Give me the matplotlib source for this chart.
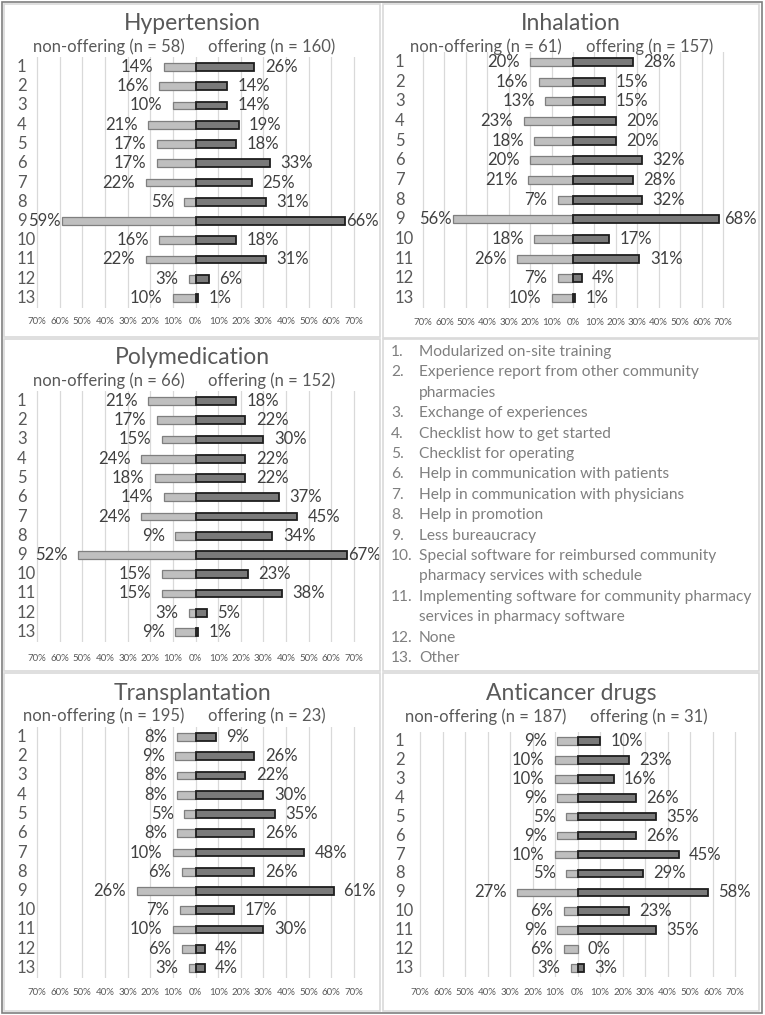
import numpy as np
import matplotlib.pyplot as plt
import matplotlib.transforms as mtransforms
from matplotlib.patches import Rectangle

plt.rcParams['font.family'] = ['Lato', 'DejaVu Sans']

W, H = 765, 1015

# Datos (porcentajes) ********************************************************
items = list(range(1, 14))

hyp_non = [14, 16, 10, 21, 17, 17, 22, 5, 59, 16, 22, 3, 10]
hyp_off = [26, 14, 14, 19, 18, 33, 25, 31, 66, 18, 31, 6, 1]
inh_non = [20, 16, 13, 23, 18, 20, 21, 7, 56, 18, 26, 7, 10]
inh_off = [28, 15, 15, 20, 20, 32, 28, 32, 68, 17, 31, 4, 1]
pol_non = [21, 17, 15, 24, 18, 14, 24, 9, 52, 15, 15, 3, 9]
pol_off = [18, 22, 30, 22, 22, 37, 45, 34, 67, 23, 38, 5, 1]
tra_non = [8, 9, 8, 8, 5, 8, 10, 6, 26, 7, 10, 6, 3]
tra_off = [9, 26, 22, 30, 35, 26, 48, 26, 61, 17, 30, 4, 4]
anc_non = [9, 10, 10, 9, 5, 9, 10, 5, 27, 6, 9, 6, 3]
anc_off = [10, 23, 16, 26, 35, 26, 45, 29, 58, 23, 35, 0, 3]

titles = ['Hypertension', 'Inhalation', 'Polymedication', 'Transplantation', 'Anticancer drugs']
n_non = [58, 61, 66, 195, 187]
n_off = [160, 157, 152, 23, 31]

ticks = [-70, -60, -50, -40, -30, -20, -10, 0, 10, 20, 30, 40, 50, 60, 70]
tick_labels = ['%d%%' % abs(t) for t in ticks]

legend_items = [
    ('1.', ['Modularized on-site training']),
    ('2.', ['Experience report from other community', 'pharmacies']),
    ('3.', ['Exchange of experiences']),
    ('4.', ['Checklist how to get started']),
    ('5.', ['Checklist for operating']),
    ('6.', ['Help in communication with patients']),
    ('7.', ['Help in communication with physicians']),
    ('8.', ['Help in promotion']),
    ('9.', ['Less bureaucracy']),
    ('10.', ['Special software for reimbursed community', 'pharmacy services with schedule']),
    ('11.', ['Implementing software for community pharmacy', 'services in pharmacy software']),
    ('12.', ['None']),
    ('13.', ['Other']),
]

# Geometria de cada panel (pixeles) *******************************************
# (izq70, der70, fila1, fila13, titulo, subtitulo, ticks, x etiqueta fila,
#  limite izq. y der. de las etiquetas de valor)
geom = [
    (37, 354, 67, 298, 23, 47, 320, 17, 28, 376),
    (423, 723, 62, 298, 23, 47, 321, 395, 426, 757),
    (37, 354, 401, 632, 357, 381, 657, 17, 28, 376),
    (37, 354, 737, 968, 693, 716, 991, 17, 28, 376),
    (420, 735, 741, 968, 693, 717, 991, 395, 405, 757),
]
boxes = [(4, 4, 380, 337), (383, 4, 759, 338), (4, 339, 380, 671),
         (4, 673, 380, 1011), (383, 673, 759, 1011)]
legend_box = (383, 339, 759, 671)

datos = [(hyp_non, hyp_off), (inh_non, inh_off), (pol_non, pol_off),
         (tra_non, tra_off), (anc_non, anc_off)]

fx = lambda px: px / W
fy = lambda py: 1 - py / H

fig = plt.figure(figsize=(W / 100, H / 100), dpi=100)

def caja(x0, y0, x1, y1, color, lw):
    fig.patches.append(Rectangle((fx(x0), fy(y1)), fx(x1) - fx(x0), fy(y0) - fy(y1),
                                 transform=fig.transFigure, fill=False,
                                 edgecolor=color, lw=lw, zorder=0))

caja(1.5, 1.5, 762, 1013, '#7f7f7f', 1.2)
for b in boxes + [legend_box]:
    caja(*b, '#d9d9d9', 1.2)

TXT = '#595959'
OFF = 7.5   # separacion etiqueta-barra [pt]
etiquetas = []   # (annotation, lado, limite)

for k in range(5):
    l70, r70, y1, y13, ty, sy, tky, rx, limi, limd = geom[k]
    non, off = datos[k]
    sc = (r70 - l70) / 140.0          # px por 1 %
    dy = (y13 - y1) / 12.0
    x0 = l70 - 5 * sc
    x1 = r70 + 5 * sc
    ytop = y1 - 0.5 * dy
    ybot = y13 + 0.5 * dy
    ax = fig.add_axes([fx(x0), fy(ybot), fx(x1) - fx(x0), fy(ytop) - fy(ybot)])
    ax.set_xlim(-75, 75)
    ax.set_ylim(13.5, 0.5)
    ax.patch.set_alpha(0)
    for s in ax.spines.values():
        s.set_visible(False)

    for t in ticks:
        ax.axvline(t, color='#d9d9d9', lw=0.9, zorder=0)

    y = np.array(items)
    non = np.array(non)
    off = np.array(off)
    ax.barh(y, -non, height=0.4, color='#bfbfbf', edgecolor='#7f7f7f',
            linewidth=[0.9 if v > 0 else 0 for v in non], zorder=2)
    ax.barh(y, off, height=0.4, color='#7a7a7a', edgecolor='#1e1e1e',
            linewidth=[1.3 if v > 0 else 0 for v in off], zorder=2)

    for yi, v in zip(y, non):
        a = ax.annotate('%d%%' % v, (-v, yi), xytext=(-OFF, 0), textcoords='offset points',
                        ha='right', va='center', fontsize=12, color='#404040')
        etiquetas.append((a, 'izq', limi))
    for yi, v in zip(y, off):
        a = ax.annotate('%d%%' % v, (v, yi), xytext=(OFF, 0), textcoords='offset points',
                        ha='left', va='center', fontsize=12, color='#404040')
        etiquetas.append((a, 'der', limd))

    ax.set_xticks(ticks)
    ax.set_xticklabels(tick_labels, fontsize=7, color=TXT)
    ax.tick_params(axis='x', length=0, pad=(tky - ybot) * 0.72 - 2.5)
    ax.set_yticks([])

    tr = mtransforms.blended_transform_factory(fig.transFigure, ax.transData)
    for yi in y:
        ax.text(fx(rx), yi, str(yi), transform=tr, ha='left', va='center',
                fontsize=12, color=TXT)

    xz = l70 + 70 * sc
    fig.text(fx((boxes[k][0] + boxes[k][2]) / 2), fy(ty), titles[k],
             ha='center', va='center', fontsize=16.5, color=TXT)
    fig.text(fx(xz - 11), fy(sy), 'non-offering (n = %d)' % n_non[k],
             ha='right', va='center', fontsize=12, color=TXT)
    fig.text(fx(xz + 13), fy(sy), 'offering (n = %d)' % n_off[k],
             ha='left', va='center', fontsize=12, color=TXT)

# Leyenda de items ************************************************************
yl = 352
paso = 20.4
for num, lineas in legend_items:
    fig.text(fx(391), fy(yl), num, ha='left', va='center', fontsize=11.2, color='#7f7f7f')
    for ln in lineas:
        fig.text(fx(419), fy(yl), ln, ha='left', va='center', fontsize=11.2, color='#7f7f7f')
        yl += paso

# Las etiquetas que no caben se acercan a la barra (como hace Excel)
fig.canvas.draw()
r = fig.canvas.get_renderer()
for a, lado, lim in etiquetas:
    bb = a.get_window_extent(r)
    if lado == 'der' and bb.x1 > lim:
        a.set_position((max(OFF - (bb.x1 - lim) * 0.72, 1), 0))
    if lado == 'izq' and bb.x0 < lim:
        a.set_position((min(-OFF + (lim - bb.x0) * 0.72, -1), 0))

fig.savefig('out.png', dpi=100)
